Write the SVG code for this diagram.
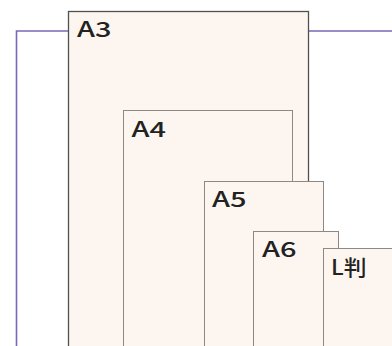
<svg xmlns="http://www.w3.org/2000/svg" width="392" height="346" viewBox="0 0 392 346">
<style>
.paper{fill:#fdf6f0;stroke:#8c8884;stroke-width:1}
.outer{stroke:#505050;stroke-width:1.3}
.lbl{font-family:"Noto Sans CJK JP","Noto Sans",sans-serif;font-size:21px;font-weight:500;fill:#222}
.conn{fill:none;stroke:#7b68b6;stroke-width:1.6}
</style>
<rect width="392" height="346" fill="#ffffff"/>
<g id="connectors">
<path class="conn" d="M16.5 346 V31 H392"/>
</g>
<g id="A3">
<rect class="paper outer" x="68.5" y="11.5" width="240" height="360"/>
<text class="lbl" x="77" y="37" textLength="34.5" lengthAdjust="spacingAndGlyphs">A3</text>
</g>
<g id="A4">
<rect class="paper" x="123.5" y="110.5" width="169" height="260"/>
<text class="lbl" x="131.5" y="136.5" textLength="34.5" lengthAdjust="spacingAndGlyphs">A4</text>
</g>
<g id="A5">
<rect class="paper" x="204.5" y="181.5" width="119" height="190"/>
<text class="lbl" x="212" y="206.5" textLength="34.5" lengthAdjust="spacingAndGlyphs">A5</text>
</g>
<g id="A6">
<rect class="paper" x="253.5" y="231.5" width="85" height="140"/>
<text class="lbl" x="262" y="256.5" textLength="34.5" lengthAdjust="spacingAndGlyphs">A6</text>
</g>
<g id="L">
<rect class="paper" x="323.5" y="248.5" width="90" height="120"/>
<text class="lbl" x="331" y="275" textLength="35.5" lengthAdjust="spacingAndGlyphs">L判</text>
</g>
</svg>
